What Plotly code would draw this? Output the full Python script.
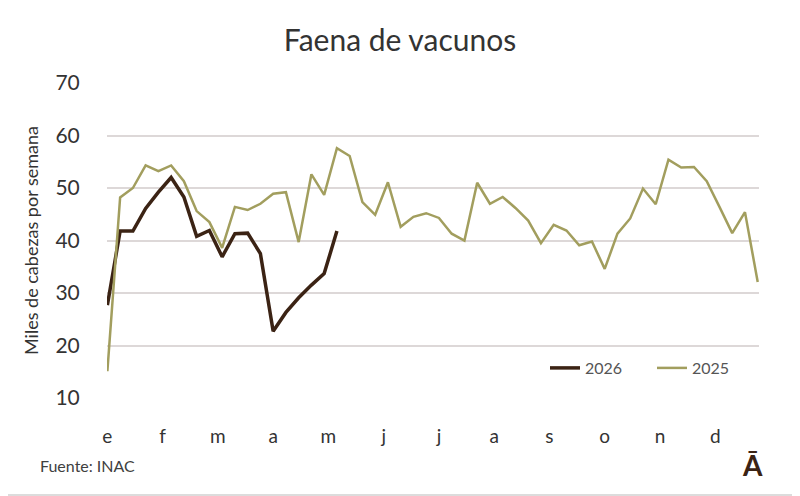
import plotly.graph_objects as go

# semanas del año (índice 0..51)
weeks = list(range(52))

faena_2025 = [15.1, 48.2, 50.0, 54.3, 53.2, 54.3, 51.3, 45.6, 43.5, 38.6,
              46.4, 45.8, 47.0, 48.9, 49.2, 39.7, 52.6, 48.7, 57.6, 56.1,
              47.3, 44.9, 51.1, 42.6, 44.5, 45.2, 44.3, 41.3, 40.0, 51.0,
              47.0, 48.3, 46.2, 43.8, 39.5, 43.0, 41.9, 39.1, 39.8, 34.6,
              41.3, 44.2, 49.9, 46.9, 55.4, 53.9, 54.0, 51.3, 46.4, 41.4,
              45.4, 32.1]

faena_2026 = [27.7, 41.8, 41.8, 46.1, 49.2, 52.0, 48.3, 40.8, 41.9, 36.9,
              41.3, 41.4, 37.5, 22.7, 26.3, 29.1, 31.5, 33.7, 41.8]

month_labels = ['e', 'f', 'm', 'a', 'm', 'j', 'j', 'a', 's', 'o', 'n', 'd']
month_pos = [i * 52 / 12 for i in range(12)]

font_fam = 'Lato, "Open Sans", sans-serif'

# el navegador deja 8px de margen en el body
L, R, T, B = 99, 49, 75, 106
PW, PH = 800 - L - R, 496 - T - B

fig = go.Figure()

fig.add_trace(go.Scatter(x=weeks[:len(faena_2026)], y=faena_2026, mode='lines', name='2026',
                         line=dict(color='#3b2314', width=3.5)))
fig.add_trace(go.Scatter(x=weeks, y=faena_2025, mode='lines', name='2025',
                         line=dict(color='#a29e5e', width=2.5)))

fig.update_layout(
    width=800, height=496,
    margin=dict(l=L, r=R, t=T, b=B),
    paper_bgcolor='white', plot_bgcolor='white',
    font=dict(family=font_fam, color='#404040'),
    title=dict(text='Faena de vacunos', x=(400 - 8) / 800, xanchor='center',
               y=1 - 32 / 496, yanchor='middle',
               font=dict(size=30, color='#333333')),
    xaxis=dict(range=[-0.03, 51.1], tickvals=month_pos, ticktext=month_labels,
               showgrid=False, zeroline=False, showline=False,
               ticks='outside', ticklen=21, tickcolor='rgba(0,0,0,0)',
               tickfont=dict(size=19, color='#333333')),
    yaxis=dict(range=[10, 70], dtick=10, showgrid=True, gridcolor='#ddd8d8', gridwidth=1.5,
               zeroline=False, showline=False,
               ticks='outside', ticklen=22, tickcolor='rgba(0,0,0,0)',
               tickfont=dict(size=21, color='#333333'),
               title=dict(text='Miles de cabezas por semana', standoff=12,
                          font=dict(size=18, color='#333333'))),
    legend=dict(orientation='h', x=(551 - 8 - L - 6) / PW, xanchor='left',
                y=(390 - 360) / PH, yanchor='middle',
                font=dict(size=16, color='#555555'), bgcolor='rgba(0,0,0,0)',
                entrywidth=62, entrywidthmode='pixels'),
    showlegend=True,
)

fig.add_annotation(text='Fuente: INAC', xref='paper', yref='paper',
                   x=(30 - L) / PW, y=(390 - 457) / PH, xanchor='left', yanchor='middle',
                   showarrow=False, font=dict(size=16, color='#404040'))
fig.add_annotation(text='<b>Ā</b>', xref='paper', yref='paper',
                   x=(744 - L) / PW, y=(390 - 457) / PH, xanchor='center', yanchor='middle',
                   showarrow=False, font=dict(size=28, color='#3b2314'))

# borde gris de la imagen (lados visibles)
fig.add_shape(type='line', xref='paper', yref='paper',
              x0=(790 - L) / PW, x1=(790 - L) / PW, y0=(390 - 488) / PH, y1=(390 + 8) / PH,
              line=dict(color='#d0d0d0', width=1.5))
fig.add_shape(type='line', xref='paper', yref='paper',
              x0=-L / PW, x1=(790 - L) / PW, y0=(390 - 487) / PH, y1=(390 - 487) / PH,
              line=dict(color='#d0d0d0', width=1.5))

fig.write_html('out.html')
